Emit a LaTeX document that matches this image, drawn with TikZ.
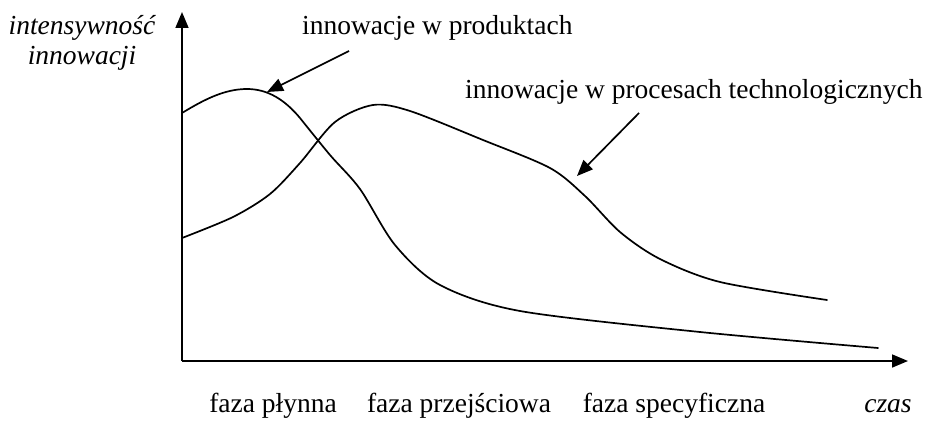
\documentclass[tikz,border=0pt]{standalone}
\usepackage{fontspec}
\setmainfont{Liberation Serif}
\usetikzlibrary{arrows.meta}
\tikzset{
  lbl/.style={inner sep=0pt, font=\fontsize{27.5}{33}\selectfont},
  ilbl/.style={lbl, font=\fontsize{27.5}{33}\selectfont\itshape},
  axis/.style={line width=1.7pt, -{Triangle[length=16pt,width=13pt]}},
  curve/.style={line width=1.7pt, line join=round, line cap=round},
  pointer/.style={line width=1.7pt, -{Triangle[length=16pt,width=13pt]}}
}
\begin{document}
\begin{tikzpicture}[x=1pt,y=-1pt]
\useasboundingbox (0,0) rectangle (942,425);
% axes
\coordinate (O) at (182,361);
\coordinate (Ytop) at (182,12);
\coordinate (Xend) at (908,361);
\draw[axis] (O) -- (Ytop);
\draw[axis] (O) -- (Xend);
% product innovation curve
\draw[curve] (182,113) .. controls (205,99) and (225,89) .. (247,89)
  .. controls (268,89) and (285,100) .. (300,118)
  plot[smooth, tension=0.5] coordinates {
 (300,118) (330,155) (360,189) (395,245) (440,285) (520,311) (700,332) (878,348)};
% process innovation curve
\draw[curve] plot[smooth, tension=0.5] coordinates {
 (182,238) (233,217) (270,194) (300,163) (335,122) (373,105) (410,111) (483,140) (550,168) (585,196) (620,232) (660,259) (720,282) (827,300)};
% labels
\node[lbl, anchor=base west] (prod) at (302,35) {innowacje w produktach};
\node[lbl, anchor=base west] (proc) at (465,99) {innowacje w procesach technologicznych};
\node[ilbl, anchor=base] (ylab1) at (82,35) {intensywność};
\node[ilbl, anchor=base] (ylab2) at (82,65) {innowacji};
\node[lbl, anchor=base] (f1) at (273,412) {faza płynna};
\node[lbl, anchor=base] (f2) at (459,412) {faza przejściowa};
\node[lbl, anchor=base] (f3) at (674,412) {faza specyficzna};
\node[ilbl, anchor=base] (czas) at (888,412) {czas};
% pointers
\coordinate (p1s) at (349,51);
\coordinate (p1e) at (267,92);
\coordinate (p2s) at (639,113);
\coordinate (p2e) at (577,176);
\draw[pointer] (p1s) -- (p1e);
\draw[pointer] (p2s) -- (p2e);
\end{tikzpicture}
\end{document}
